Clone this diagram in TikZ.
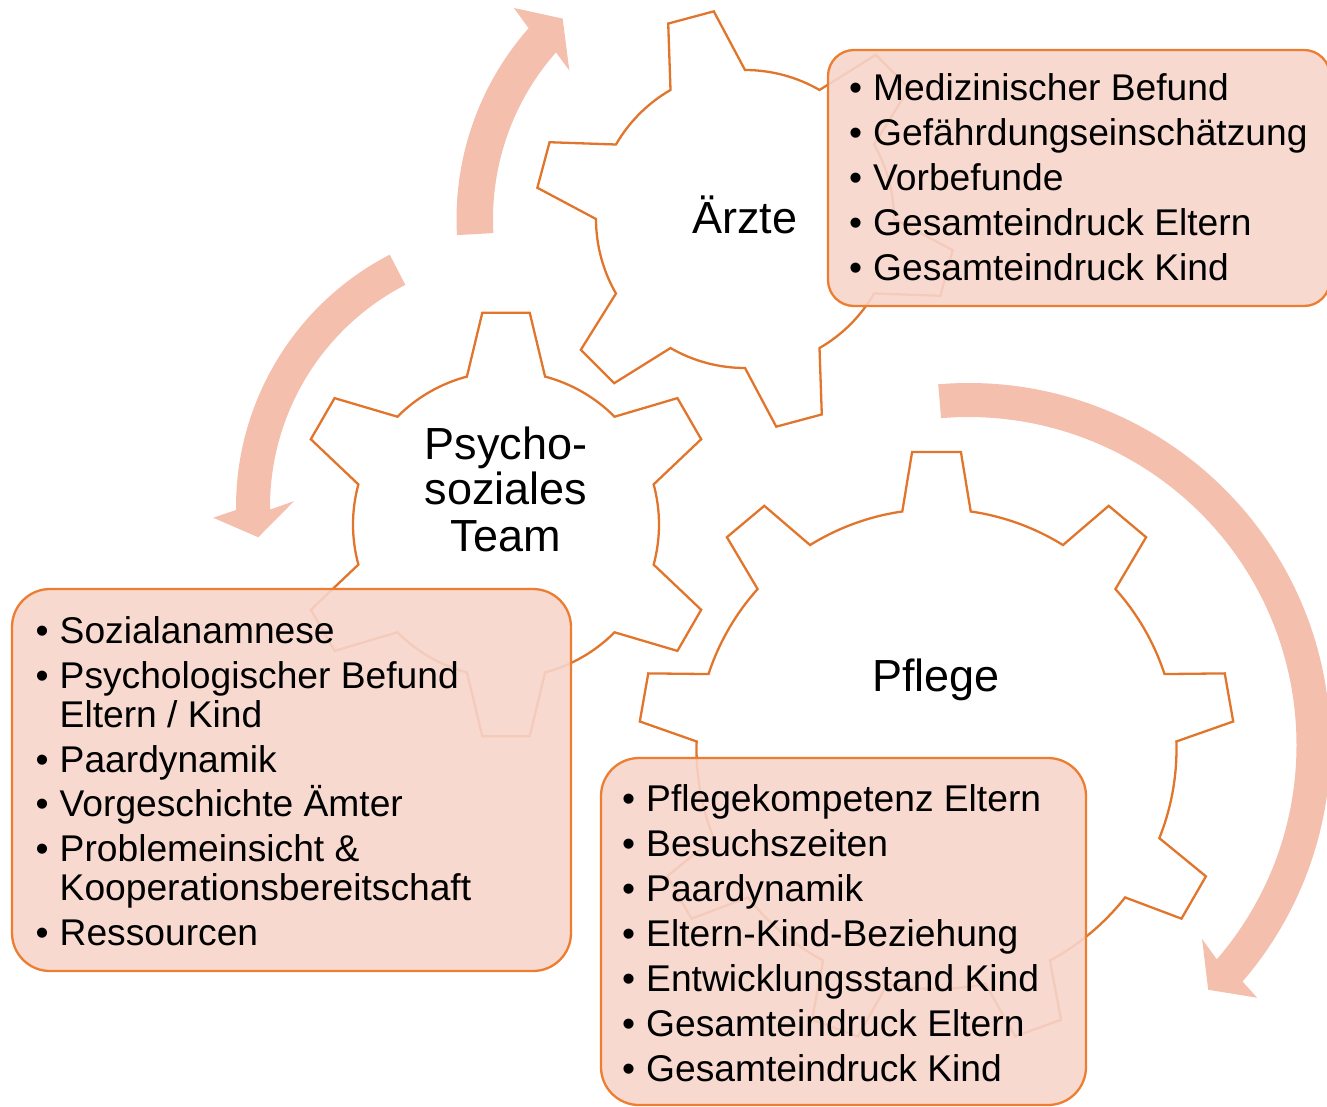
\documentclass[tikz,border=0pt]{standalone}
\usepackage{fontspec}
\setmainfont{Liberation Sans}
\definecolor{gearorange}{RGB}{226,117,44}
\definecolor{boxorange}{RGB}{237,125,49}
\definecolor{boxpink}{RGB}{247,213,202}
\definecolor{arrowpink}{RGB}{244,191,173}

% gear outline: center, last tooth index, first tooth angle, tooth step,
% root radius, tip radius, root half angle, tip half angle
\newcommand\drawgear[8]{%
  \draw[gearline,shift={(#1)}] ({#3-#7}:#5)
    \foreach \k in {0,...,#2}{
      -- ({#3+\k*#4-#8}:#6) -- ({#3+\k*#4+#8}:#6) -- ({#3+\k*#4+#7}:#5)
      arc[start angle={#3+\k*#4+#7}, end angle={#3+(\k+1)*#4-#7}, radius=#5]
    } -- cycle;
}
\newcommand\itembullet{\makebox[24pt][l]{•}}

\begin{document}
\begin{tikzpicture}[x=1pt,y=-1pt,
  gearline/.style={draw=gearorange,line width=2.3pt,fill=white,line join=miter},
  cyclearrow/.style={fill=arrowpink},
  infobox/.style={shape=rectangle,draw=boxorange,line width=2.3pt,fill=boxpink,
    fill opacity=0.9,rounded corners=#1,inner sep=0pt},
  gearlabel/.style={font=\fontsize{45}{54}\selectfont,anchor=base,inner sep=0pt},
  itemline/.style={font=\fontsize{37.2}{45}\selectfont,anchor=base west,inner sep=0pt},
]
\useasboundingbox (0,0) rectangle (1327,1106);

% gear centers
\coordinate (gA) at (745,219);
\coordinate (gB) at (506,524.5);
\coordinate (gC) at (936.5,749);

% gears
\drawgear{gA}{5}{15}{60}{149}{210}{15}{6.45}
\drawgear{gB}{5}{30}{60}{153}{213}{14.8}{6.4}
\drawgear{gC}{8}{30}{40}{240}{298}{8.2}{4.7}

% circular arrows
\coordinate (aA) at (745,219);
\coordinate (aB) at (520,507);
\coordinate (aC) at (968.5,745);
\fill[cyclearrow,shift={(aA)}] (176.8:288.5)
  arc[start angle=176.8,end angle=221.4,radius=288.5]
  -- (222.4:313) -- (227.7:271) -- (220.2:230) -- (221.4:252)
  arc[start angle=221.4,end angle=176.8,radius=252] -- cycle;
\fill[cyclearrow,shift={(aB)}] (242.7:284)
  arc[start angle=242.7,end angle=179.4,radius=284]
  -- (178:307) -- (173.4:263.5) -- (181.5:226) -- (179.4:250)
  arc[start angle=179.4,end angle=242.7,radius=250] -- cycle;
\fill[cyclearrow,shift={(aC)}] (-94.8:362)
  arc[start angle=-94.8,end angle=40.8,radius=362]
  -- (41.2:383.7) -- (45.6:342.6) -- (39.7:303.6) -- (40.8:328)
  arc[start angle=40.8,end angle=-94.8,radius=328] -- cycle;

% gear labels
\node[gearlabel] (lA) at (745,233) {Ärzte};
\node[gearlabel] (lB1) at (506,459) {Psycho-};
\node[gearlabel] (lB2) at (506,504) {soziales};
\node[gearlabel] (lB3) at (506,551.5) {Team};
\node[gearlabel] (lC) at (936,691) {Pflege};

% detail boxes
\node[infobox=26pt,minimum width=502pt,minimum height=256pt] (boxA) at (1079,178) {};
\node[infobox=38pt,minimum width=559pt,minimum height=382pt] (boxB) at (291.5,780) {};
\node[infobox=38pt,minimum width=485pt,minimum height=347pt] (boxC) at (843.5,931.5) {};

% Ärzte
\node[itemline] (a1) at (849,100) {\itembullet Medizinischer Befund};
\node[itemline] (a2) at (849,145) {\itembullet Gefährdungseinschätzung};
\node[itemline] (a3) at (849,190) {\itembullet Vorbefunde};
\node[itemline] (a4) at (849,235) {\itembullet Gesamteindruck Eltern};
\node[itemline] (a5) at (849,280) {\itembullet Gesamteindruck Kind};

% Psychosoziales Team
\node[itemline] (b1) at (35.5,643) {\itembullet Sozialanamnese};
\node[itemline] (b2) at (35.5,688) {\itembullet Psychologischer Befund};
\node[itemline] (b2c) at (59.5,727) {Eltern / Kind};
\node[itemline] (b3) at (35.5,772) {\itembullet Paardynamik};
\node[itemline] (b4) at (35.5,816) {\itembullet Vorgeschichte Ämter};
\node[itemline] (b5) at (35.5,861) {\itembullet Problemeinsicht \&};
\node[itemline] (b5c) at (59.5,900) {Kooperationsbereitschaft};
\node[itemline] (b6) at (35.5,945) {\itembullet Ressourcen};

% Pflege
\node[itemline] (c1) at (622,811) {\itembullet Pflegekompetenz Eltern};
\node[itemline] (c2) at (622,856) {\itembullet Besuchszeiten};
\node[itemline] (c3) at (622,901) {\itembullet Paardynamik};
\node[itemline] (c4) at (622,946) {\itembullet Eltern-Kind-Beziehung};
\node[itemline] (c5) at (622,991) {\itembullet Entwicklungsstand Kind};
\node[itemline] (c6) at (622,1036) {\itembullet Gesamteindruck Eltern};
\node[itemline] (c7) at (622,1081) {\itembullet Gesamteindruck Kind};
\end{tikzpicture}
\end{document}
